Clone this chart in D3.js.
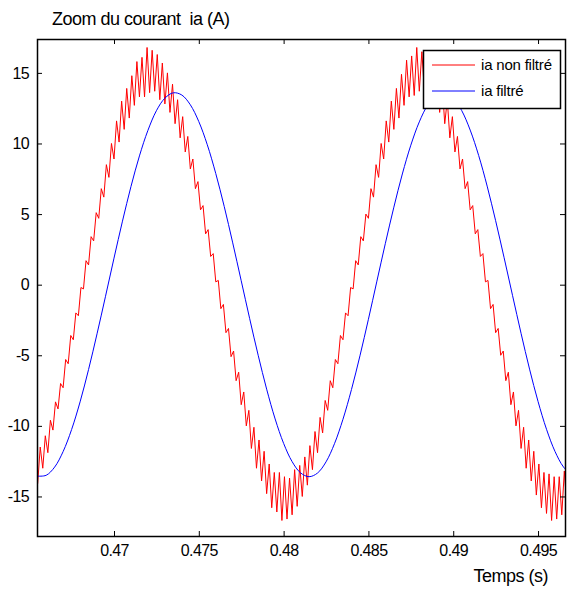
<!DOCTYPE html>
<html>
<head>
<meta charset="utf-8">
<script src="https://cdn.jsdelivr.net/npm/d3@7"></script>
<style>
  body { margin: 0; background: #fff; }
  svg text { font-family: 'Liberation Sans', Arial, sans-serif; fill: #000; }
</style>
</head>
<body>
<svg id="chart" width="575" height="589"></svg>
<script>
// time window of the zoom (s)
const X_DOMAIN = [0.46546, 0.49659];
const Y_DOMAIN = [-17.8, 17.4];

const xTicks = [0.47, 0.475, 0.48, 0.485, 0.49, 0.495];
const yTicks = [-15, -10, -5, 0, 5, 10, 15];

const seriesNames = ['ia non filtré', 'ia filtré'];
const seriesColors = ['#ff0000', '#0000ff'];

// ia non filtré, sampled every 0.15 ms from 0.4655 s
const RAW_T0 = 0.4655;
const RAW_DT = 0.00015;
const iaRaw = [
  -14.1, -11.5, -13.0, -10.7, -11.9, -9.6, -10.3, -8.3, -8.8, -7.0,
  -7.3, -5.3, -5.6, -3.6, -3.9, -2.0, -2.2, -0.2, -0.3, 1.7,
  1.4, 3.4, 3.1, 5.1, 4.7, 6.8, 6.2, 8.5, 7.6, 10.0,
  8.9, 11.6, 10.1, 13.0, 11.0, 13.9, 11.8, 14.8, 12.7, 15.8,
  13.3, 16.1, 13.3, 16.8, 13.6, 16.6, 13.7, 16.3, 13.1, 15.7,
  12.8, 15.0, 12.2, 14.2, 11.4, 13.1, 10.4, 11.9, 9.4, 10.5,
  8.2, 8.9, 6.8, 7.3, 5.3, 5.6, 3.6, 3.9, 2.0, 2.2,
  0.2, 0.3, -1.7, -1.4, -3.4, -3.1, -5.1, -4.7, -6.8, -6.2,
  -8.5, -7.6, -10.0, -8.9, -11.6, -10.1, -13.0, -11.0, -13.9, -11.8,
  -14.8, -12.7, -15.8, -13.3, -16.1, -13.3, -16.7, -13.6, -16.6, -13.7,
  -16.3, -13.1, -15.7, -12.8, -15.0, -12.2, -14.2, -11.4, -13.1, -10.4,
  -11.9, -9.4, -10.5, -8.2, -8.9, -6.8, -7.3, -5.3, -5.6, -3.6,
  -3.9, -2.0, -2.2, -0.2, -0.3, 1.7, 1.4, 3.4, 3.1, 5.0,
  4.7, 6.8, 6.2, 8.5, 7.6, 10.0, 8.9, 11.6, 10.1, 13.0,
  11.0, 13.9, 11.8, 14.9, 12.7, 15.9, 13.3, 16.2, 13.4, 16.8,
  13.7, 16.5, 13.7, 16.2, 13.1, 15.7, 12.8, 15.0, 12.2, 14.2,
  11.4, 13.1, 10.4, 11.9, 9.4, 10.5, 8.2, 8.9, 6.8, 7.3,
  5.3, 5.6, 3.6, 3.9, 2.0, 2.2, 0.2, 0.3, -1.7, -1.4,
  -3.4, -3.1, -5.0, -4.7, -6.8, -6.2, -8.5, -7.6, -10.0, -8.9,
  -11.6, -10.1, -13.0, -11.0, -13.9, -11.8, -14.9, -12.7, -15.8, -13.3,
  -16.2, -13.4, -16.7, -13.6, -16.6, -13.6, -16.3, -13.2, -15.7,
];

// ia filtré, sampled every 0.5 ms from 0.4655 s
const FILT_T0 = 0.4655;
const FILT_DT = 0.0005;
const iaFilt = [
  -13.56, -13.50, -12.92, -11.82, -10.26, -8.30, -6.01, -3.48, -0.82, 1.88,
  4.50, 6.95, 9.12, 10.93, 12.32, 13.21, 13.59, 13.43, 12.74, 11.55,
  9.91, 7.87, 5.53, 2.96, 0.28, -2.41, -5.00, -7.40, -9.51, -11.24,
  -12.53, -13.33, -13.60, -13.34, -12.55, -11.26, -9.53, -7.43, -5.04, -2.45,
  0.25, 2.93, 5.49, 7.84, 9.88, 11.53, 12.73, 13.42, 13.59, 13.22,
  12.33, 10.95, 9.15, 6.98, 4.53, 1.91, -0.78, -3.45, -5.98, -8.27,
  -10.24, -11.81, -12.91, -13.50,
];

const margin = { left: 37, right: 10, top: 39, bottom: 53 };

let svg = d3.select('#chart');
let W = +svg.attr('width');
let H = +svg.attr('height');
let innerW = W - margin.left - margin.right;
let innerH = H - margin.top - margin.bottom;

let x = d3.scaleLinear().domain(X_DOMAIN).range([0, innerW]);
let y = d3.scaleLinear().domain(Y_DOMAIN).range([innerH, 0]);

svg.append('defs')
  .append('clipPath')
    .attr('id', 'plot-clip')
  .append('rect')
    .attr('width', innerW)
    .attr('height', innerH);

let g = svg.append('g')
  .attr('transform', `translate(${margin.left}, ${margin.top})`);

let rawData = iaRaw.map((v, i) => ({ t: RAW_T0 + i * RAW_DT, v }));
let filtData = iaFilt.map((v, i) => ({ t: FILT_T0 + i * FILT_DT, v }));

let lines = g.append('g').attr('clip-path', 'url(#plot-clip)');

lines.append('path')
  .datum(rawData)
  .attr('fill', 'none')
  .attr('stroke', seriesColors[0])
  .attr('stroke-width', 1)
  .attr('d', d3.line().x(d => x(d.t)).y(d => y(d.v)));

lines.append('path')
  .datum(filtData)
  .attr('fill', 'none')
  .attr('stroke', seriesColors[1])
  .attr('stroke-width', 1)
  .attr('d', d3.line().curve(d3.curveCatmullRom).x(d => x(d.t)).y(d => y(d.v)));

// matlab style box with inward ticks on all four sides
const TICK = 5;
let plainNum = d => String(d); // hyphen minus like matlab, not the unicode one
let styleAxis = sel => {
  sel.select('.domain').remove();
  sel.selectAll('.tick line').attr('stroke', '#000');
  sel.selectAll('.tick text')
    .style('font-size', '16px')
    .style('letter-spacing', '-0.6px');
};

g.append('g')
  .attr('transform', `translate(0, ${innerH})`)
  .call(d3.axisBottom(x).tickValues(xTicks).tickFormat(plainNum).tickSize(-TICK).tickPadding(9))
  .call(styleAxis);

g.append('g')
  .call(d3.axisTop(x).tickValues(xTicks).tickFormat('').tickSize(-TICK))
  .call(styleAxis);

g.append('g')
  .call(d3.axisLeft(y).tickValues(yTicks).tickFormat(plainNum).tickSize(-TICK).tickPadding(8))
  .call(styleAxis);

g.append('g')
  .attr('transform', `translate(${innerW}, 0)`)
  .call(d3.axisRight(y).tickValues(yTicks).tickFormat('').tickSize(-TICK))
  .call(styleAxis);

g.append('rect')
  .attr('x', 0.5)
  .attr('y', 0.5)
  .attr('width', innerW)
  .attr('height', innerH)
  .attr('fill', 'none')
  .attr('stroke', '#000')
  .attr('stroke-width', 1.5);

// legend
let legend = g.append('g')
  .attr('transform', `translate(${innerW - 142}, 11)`);

legend.append('rect')
  .attr('x', 0.5)
  .attr('y', 0.5)
  .attr('width', 137)
  .attr('height', 58)
  .attr('fill', '#fff')
  .attr('stroke', '#000')
  .attr('stroke-width', 1.5);

seriesNames.forEach((name, i) => {
  let row = legend.append('g')
    .attr('transform', `translate(0, ${15 + i * 26})`);
  row.append('line')
    .attr('x1', 9)
    .attr('x2', 52)
    .attr('stroke', seriesColors[i])
    .attr('stroke-width', 1);
  row.append('text')
    .attr('x', 58)
    .attr('y', 5)
    .style('font-size', '15px')
    .style('letter-spacing', '-0.2px')
    .text(name);
});

// titles
svg.append('text')
  .attr('x', 52)
  .attr('y', 25)
  .style('font-size', '18px')
  .style('letter-spacing', '-0.5px')
  .style('white-space', 'pre')
  .text('Zoom du courant  ia (A)');

svg.append('text')
  .attr('x', 548)
  .attr('y', 582)
  .attr('text-anchor', 'end')
  .style('font-size', '18px')
  .style('letter-spacing', '-0.5px')
  .text('Temps (s)');
</script>
</body>
</html>
